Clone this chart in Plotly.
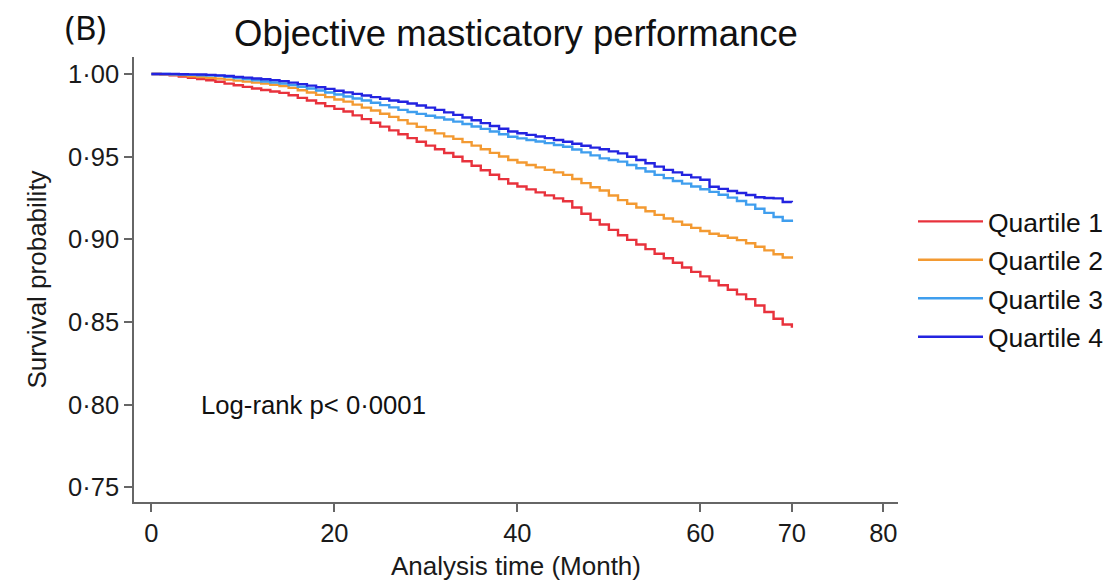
import plotly.graph_objects as go

months = list(range(0, 71))

quartile1 = [1.0000, 0.9998, 0.9993, 0.9985, 0.9977, 0.9970, 0.9962, 0.9953, 0.9942, 0.9932,
             0.9922, 0.9912, 0.9903, 0.9894, 0.9886, 0.9872, 0.9856, 0.9840, 0.9823, 0.9806,
             0.9789, 0.9773, 0.9750, 0.9727, 0.9705, 0.9682, 0.9659, 0.9636, 0.9612, 0.9590,
             0.9567, 0.9545, 0.9522, 0.9500, 0.9472, 0.9445, 0.9418, 0.9391, 0.9364, 0.9338,
             0.9320, 0.9302, 0.9284, 0.9266, 0.9248, 0.9230, 0.9193, 0.9155, 0.9118, 0.9090,
             0.9057, 0.9025, 0.8997, 0.8969, 0.8941, 0.8913, 0.8886, 0.8858, 0.8830, 0.8803,
             0.8776, 0.8750, 0.8722, 0.8695, 0.8667, 0.8638, 0.8600, 0.8560, 0.8520, 0.8485,
             0.8465]

quartile2 = [1.0000, 0.9999, 0.9996, 0.9992, 0.9987, 0.9982, 0.9977, 0.9972, 0.9966, 0.9960,
             0.9954, 0.9948, 0.9942, 0.9935, 0.9928, 0.9916, 0.9902, 0.9888, 0.9874, 0.9860,
             0.9846, 0.9833, 0.9815, 0.9797, 0.9779, 0.9760, 0.9741, 0.9721, 0.9700, 0.9680,
             0.9660, 0.9641, 0.9623, 0.9608, 0.9588, 0.9567, 0.9545, 0.9523, 0.9501, 0.9480,
             0.9465, 0.9450, 0.9435, 0.9420, 0.9405, 0.9390, 0.9365, 0.9340, 0.9315, 0.9295,
             0.9265, 0.9237, 0.9215, 0.9193, 0.9170, 0.9148, 0.9126, 0.9107, 0.9088, 0.9069,
             0.9050, 0.9034, 0.9022, 0.9010, 0.8995, 0.8976, 0.8955, 0.8933, 0.8910, 0.8890,
             0.8883]

quartile3 = [1.0000, 1.0000, 0.9998, 0.9997, 0.9995, 0.9993, 0.9991, 0.9989, 0.9983, 0.9976,
             0.9969, 0.9962, 0.9955, 0.9949, 0.9943, 0.9933, 0.9923, 0.9912, 0.9900, 0.9888,
             0.9876, 0.9864, 0.9852, 0.9840, 0.9826, 0.9812, 0.9798, 0.9783, 0.9770, 0.9759,
             0.9748, 0.9737, 0.9725, 0.9712, 0.9698, 0.9683, 0.9668, 0.9652, 0.9636, 0.9621,
             0.9611, 0.9601, 0.9592, 0.9582, 0.9571, 0.9560, 0.9543, 0.9526, 0.9508, 0.9490,
             0.9480, 0.9470, 0.9450, 0.9430, 0.9410, 0.9390, 0.9370, 0.9353, 0.9337, 0.9320,
             0.9303, 0.9287, 0.9270, 0.9252, 0.9232, 0.9210, 0.9185, 0.9160, 0.9135, 0.9112,
             0.9105]

quartile4 = [1.0000, 1.0000, 1.0000, 0.9999, 0.9998, 0.9997, 0.9995, 0.9992, 0.9988, 0.9983,
             0.9978, 0.9973, 0.9968, 0.9963, 0.9957, 0.9948, 0.9939, 0.9930, 0.9920, 0.9910,
             0.9899, 0.9889, 0.9880, 0.9870, 0.9860, 0.9850, 0.9840, 0.9832, 0.9822, 0.9810,
             0.9797, 0.9783, 0.9768, 0.9753, 0.9737, 0.9720, 0.9703, 0.9686, 0.9669, 0.9652,
             0.9642, 0.9632, 0.9622, 0.9612, 0.9601, 0.9590, 0.9578, 0.9566, 0.9555, 0.9545,
             0.9532, 0.9520, 0.9500, 0.9480, 0.9460, 0.9440, 0.9420, 0.9405, 0.9390, 0.9375,
             0.9360, 0.9318, 0.9305, 0.9292, 0.9280, 0.9268, 0.9255, 0.9250, 0.9248, 0.9226,
             0.9224]

series_names = ["Quartile 1", "Quartile 2", "Quartile 3", "Quartile 4"]
series_colors = ["#E8323C", "#F39A32", "#3F9EEE", "#2323E0"]

y_tickvals = [0.75, 0.80, 0.85, 0.90, 0.95, 1.00]
y_ticktext = ["0·75", "0·80", "0·85", "0·90", "0·95", "1·00"]
x_tickvals = [0, 20, 40, 60, 70, 80]
x_ticktext = ["0", "20", "40", "60", "70", "80"]

FONT = "Liberation Sans, Arial, sans-serif"

L, R, T, B = 134, 214, 57, 79
W, H = 1112, 581
PW, PH = W - L - R, H - T - B

fig = go.Figure()
for name, vals, col in zip(series_names, [quartile1, quartile2, quartile3, quartile4], series_colors):
    fig.add_trace(go.Scatter(
        x=months, y=vals, mode="lines", name=name, legendgroup=name,
        line=dict(color=col, width=2.4, shape="hv"),
    ))

fig.update_layout(
    width=W, height=H,
    paper_bgcolor="white", plot_bgcolor="white",
    margin=dict(l=L, r=R, t=T, b=B, autoexpand=False),
    font=dict(family=FONT, color="#1a1a1a"),
    title=dict(text="Objective masticatory performance", x=0.464, xref="container",
               xanchor="center", y=1 - 33 / H, yref="container", yanchor="middle",
               font=dict(size=36.5, color="#111")),
    showlegend=True,
    legend=dict(x=(913 - L) / PW, xanchor="left", y=0.684, yanchor="top",
                font=dict(size=26.5, color="#111"), itemwidth=65,
                traceorder="grouped", tracegroupgap=1, bgcolor="rgba(0,0,0,0)"),
    xaxis=dict(range=[-1.9, 81.6], tickmode="array", tickvals=x_tickvals, ticktext=x_ticktext,
               showgrid=False, zeroline=False, showline=True, linecolor="#666", linewidth=1.5,
               ticks="outside", ticklen=8, tickwidth=1.5, tickcolor="#666", automargin=False,
               tickfont=dict(size=25.5, color="#1a1a1a"),
               title=dict(text="Analysis time (Month)", font=dict(size=26, color="#1a1a1a"), standoff=10)),
    yaxis=dict(range=[0.7411, 1.0103], tickmode="array", tickvals=y_tickvals, ticktext=y_ticktext,
               showgrid=False, zeroline=False, showline=True, linecolor="#666", linewidth=1.5,
               ticks="outside", ticklen=8, tickwidth=1.5, tickcolor="#666", automargin=False,
               tickfont=dict(size=25.5, color="#1a1a1a"),
               title=dict(text="Survival probability", font=dict(size=26, color="#1a1a1a"), standoff=14)),
    annotations=[
        dict(text="Log-rank p< 0·0001", x=5.2, y=0.8, xref="x", yref="y", xanchor="left",
             yanchor="middle", showarrow=False, font=dict(size=25.7, color="#111")),
        dict(text="(B)", x=(85 - L) / PW, y=(H - B - 28) / PH, xref="paper", yref="paper",
             xanchor="center", yanchor="middle", showarrow=False,
             font=dict(size=33, color="#111", family="Noto Sans, sans-serif")),
    ],
)

fig.write_html("out.html", config={"displayModeBar": False},
               post_script="document.body.style.margin='0';document.body.style.overflow='hidden';")
